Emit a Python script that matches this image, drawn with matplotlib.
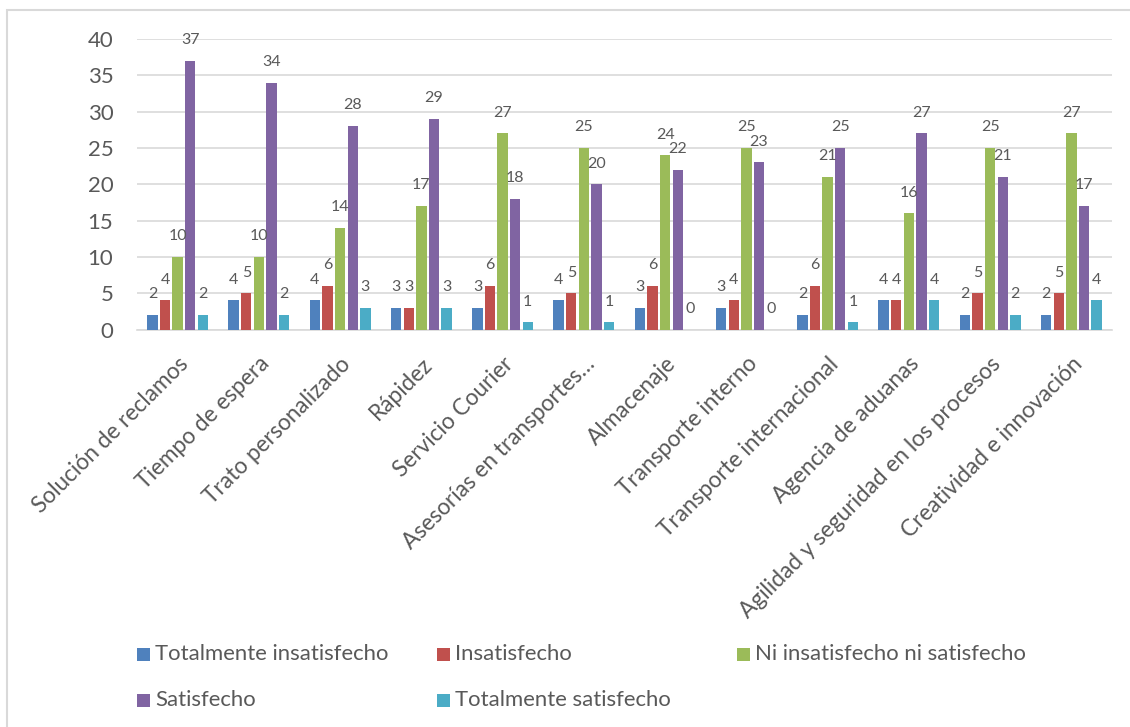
import matplotlib
matplotlib.use("Agg")
import matplotlib.pyplot as plt
from matplotlib.patches import Rectangle
import numpy as np

plt.rcParams["font.family"] = ["Lato", "DejaVu Sans"]

categories = [
    "Solución de reclamos", "Tiempo de espera", "Trato personalizado", "Rápidez",
    "Servicio Courier", "Asesorías en transportes…", "Almacenaje", "Transporte interno",
    "Transporte internacional", "Agencia de aduanas",
    "Agilidad y seguridad en los procesos", "Creatividad e innovación",
]
series_names = [
    "Totalmente insatisfecho", "Insatisfecho", "Ni insatisfecho ni satisfecho",
    "Satisfecho", "Totalmente satisfecho",
]
totalmente_insatisfecho = [2, 4, 4, 3, 3, 4, 3, 3, 2, 4, 2, 2]
insatisfecho = [4, 5, 6, 3, 6, 5, 6, 4, 6, 4, 5, 5]
ni_ni = [10, 10, 14, 17, 27, 25, 24, 25, 21, 16, 25, 27]
satisfecho = [37, 34, 28, 29, 18, 20, 22, 23, 25, 27, 21, 17]
totalmente_satisfecho = [2, 2, 3, 3, 1, 1, 0, 0, 1, 4, 2, 4]
y_ticks = [0, 5, 10, 15, 20, 25, 30, 35, 40]

colors = ["#4F81BD", "#C0504D", "#9BBB59", "#8064A2", "#4BACC6"]
TXT = "#595959"
GRID = "#D9D9D9"

W, H = 1130, 727
fig = plt.figure(figsize=(W / 100, H / 100), dpi=100)

# outer chart frame
fig.patches.append(Rectangle((7 / W, -0.05), 1.2, 1 - 10 / H + 0.05,
                             transform=fig.transFigure, fill=False,
                             edgecolor=GRID, linewidth=1.5))

ax = fig.add_axes([137 / W, 1 - 329.5 / H, 975 / W, 290.5 / H])

all_series = [totalmente_insatisfecho, insatisfecho, ni_ni, satisfecho,
              totalmente_satisfecho]
x = np.arange(len(categories))
slot = 0.155
bar_w = 0.128
for i, (name, vals, col) in enumerate(zip(series_names, all_series, colors)):
    xs = x + (i - 2) * slot
    ax.bar(xs, vals, width=bar_w, color=col, label=name, zorder=3)
    for xi, v in zip(xs, vals):
        ax.annotate(str(v), (xi, v), xytext=(0, 12), textcoords="offset points",
                    ha="center", va="baseline", fontsize=11.5, color=TXT,
                    zorder=4)

ax.set_xlim(-0.5, len(categories) - 0.5)
ax.set_ylim(0, 40)
ax.set_yticks(y_ticks)
ax.yaxis.grid(True, color=GRID, linewidth=1.2, zorder=0)
ax.set_axisbelow(True)
for side in ["top", "right", "left"]:
    ax.spines[side].set_visible(False)
ax.spines["bottom"].set_color(GRID)
ax.spines["bottom"].set_linewidth(1.2)
ax.tick_params(axis="both", length=0, colors=TXT)
ax.tick_params(axis="y", labelsize=16, pad=17)
ax.set_xticks(x)
ax.set_xticklabels(categories, rotation=45, ha="right", va="top",
                   rotation_mode="anchor", fontsize=16.3, color=TXT)
ax.tick_params(axis="x", pad=17)

# legend in two rows, three fixed-width columns
legend_pos = [(137, 654.5), (437, 654.5), (737, 654.5), (137, 700), (437, 700)]
for (px, py), name, col in zip(legend_pos, series_names, colors):
    fig.patches.append(Rectangle((px / W, 1 - (py + 6.5) / H), 13 / W, 13 / H,
                                 transform=fig.transFigure, facecolor=col,
                                 edgecolor="none"))
    fig.text((px + 18) / W, 1 - py / H, name, ha="left", va="center",
             fontsize=15.9, color=TXT)

fig.savefig("out.png", dpi=100)
